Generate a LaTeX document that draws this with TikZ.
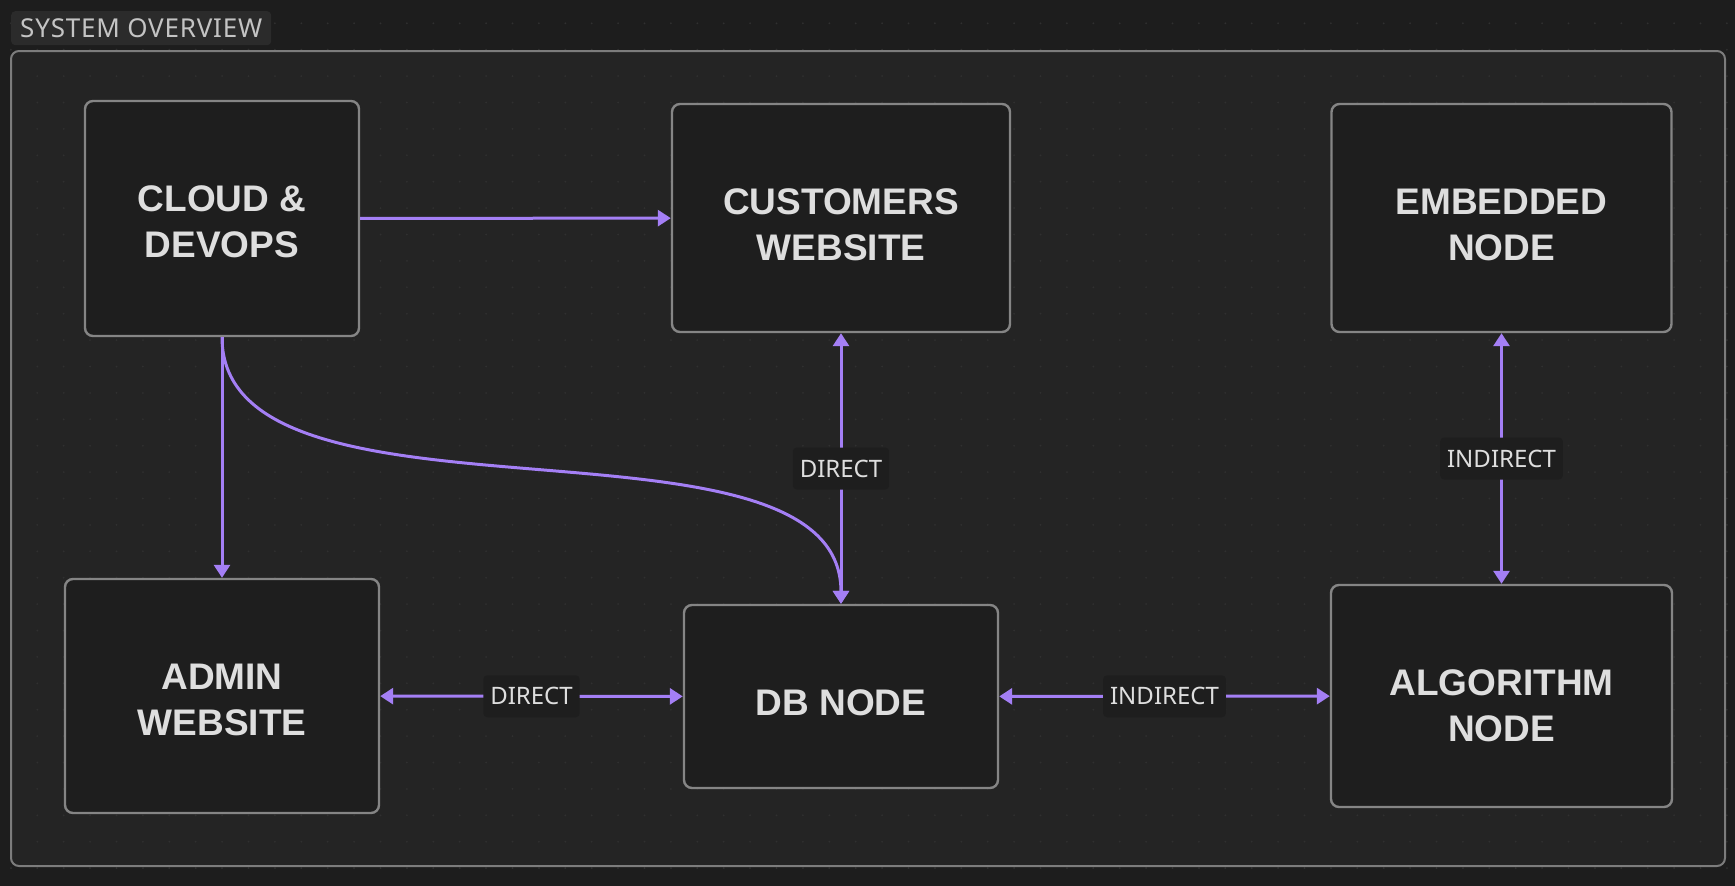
\documentclass[tikz,border=0pt]{standalone}
\usepackage{fontspec}
\setmainfont{Noto Sans}
\newfontfamily\boxfont{Liberation Sans}
\usetikzlibrary{arrows.meta}
\definecolor{canvas}{HTML}{1D1D1D}
\definecolor{frame-bg}{HTML}{242424}
\definecolor{frame-line}{HTML}{7C7C7C}
\definecolor{box-bg}{HTML}{1E1E1E}
\definecolor{box-line}{HTML}{858585}
\definecolor{grid-dot}{HTML}{303030}
\definecolor{title-bg}{HTML}{2B2B2B}
\definecolor{title-text}{HTML}{C4C4C4}
\definecolor{accent}{HTML}{A47FF5}
\definecolor{label-text}{HTML}{DEDEDE}

\begin{document}
\begin{tikzpicture}[x=1pt, y=-1pt,
        box/.style={draw=box-line, line width=2.4pt, fill=box-bg, rounded corners=8pt,
            align=center, text=label-text, text depth=0pt,
            font=\boxfont\fontsize{37}{46}\selectfont\bfseries},
        tag/.style={fill=box-bg, rounded corners=4pt, text=label-text, inner xsep=7pt,
            minimum height=42pt, font=\fontsize{24}{28}\selectfont},
        link/.style={draw=accent, line width=3pt,
            arrows={-Triangle[length=13pt, width=16pt]}},
        twoway/.style={link, arrows={Triangle[length=13pt, width=16pt]-Triangle[length=13pt, width=16pt]}}]
      \fill[canvas] (0,0) rectangle (1735,886);
      \useasboundingbox (0,0) rectangle (1735,886);
      \filldraw[fill=frame-bg, draw=none, rounded corners=8pt] (11,51) rectangle (1725,866);
      % dot grid
      \foreach \i in {0,...,65}
        \foreach \j in {0,...,32}
          \fill[grid-dot] (10.9+26.4*\i, 23.3+26.4*\j) circle (1);
      \draw[frame-line, line width=2pt, rounded corners=8pt] (11,51) rectangle (1725,866);
      \node[fill=title-bg, rounded corners=4pt, anchor=north west,
            inner xsep=9pt, minimum height=34pt, text=title-text,
            font=\fontsize{26}{28}\selectfont\addfontfeatures{LetterSpace=3}] (TITLE) at (11,11) {SYSTEM OVERVIEW};

      \node[box, minimum width=274pt, minimum height=235pt, text height=78pt] (CLOUD) at (222,218.5) {CLOUD \&\\DEVOPS};
      \node[box, minimum width=338pt, minimum height=228pt, text height=85pt] (CUST) at (841,218) {CUSTOMERS\\WEBSITE};
      \node[box, minimum width=340pt, minimum height=228pt, text height=85pt] (EMB) at (1501.5,218) {EMBEDDED\\NODE};
      \node[box, minimum width=314pt, minimum height=234pt, text height=79pt] (ADMIN) at (222,696) {ADMIN\\WEBSITE};
      \node[box, minimum width=314pt, minimum height=183pt, text height=38.2pt] (DB) at (841,696.5) {DB NODE};
      \node[box, minimum width=341pt, minimum height=222pt, text height=91pt] (ALGO) at (1501.5,696) {ALGORITHM\\NODE};

      \draw[link] (CLOUD) -- (CUST);
      \draw[link] (CLOUD.south) -- (ADMIN.north);
      \draw[link] (CLOUD.south) .. controls +(0,209) and +(0,-209) .. (DB.north);
      \draw[twoway] (CUST) -- node[tag] {DIRECT} (DB);
      \draw[twoway] (ADMIN) -- node[tag] {DIRECT} (DB);
      \draw[twoway] (DB) -- node[tag] {INDIRECT} (ALGO);
      \draw[twoway] (EMB) -- node[tag] {INDIRECT} (ALGO);
    \end{tikzpicture}
\end{document}
